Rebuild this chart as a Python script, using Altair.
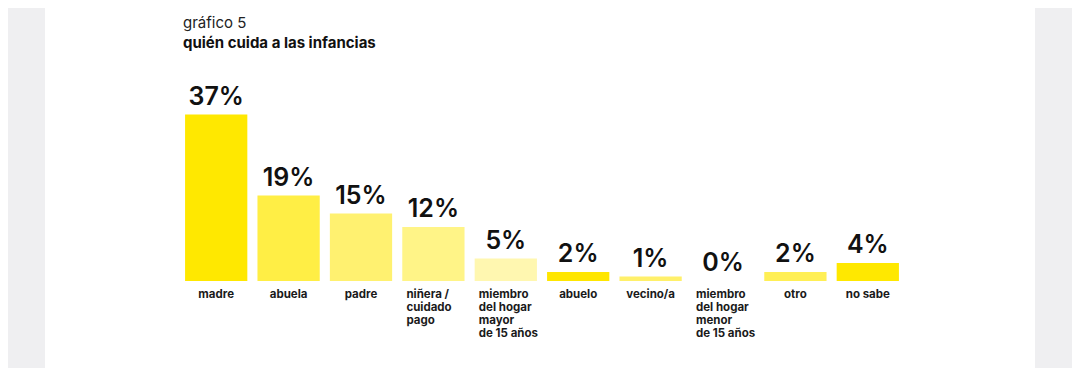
import altair as alt
import pandas as pd

title_text = "gráfico 5"
subtitle_text = "quién cuida a las infancias"

categories = ["madre", "abuela", "padre", "niñera / cuidado pago",
              "miembro del hogar mayor de 15 años", "abuelo", "vecino/a",
              "miembro del hogar menor de 15 años", "otro", "no sabe"]
label_lines = [["madre"], ["abuela"], ["padre"], ["niñera /", "cuidado", "pago"],
               ["miembro", "del hogar", "mayor", "de 15 años"], ["abuelo"], ["vecino/a"],
               ["miembro", "del hogar", "menor", "de 15 años"], ["otro"], ["no sabe"]]
values = [37, 19, 15, 12, 5, 2, 1, 0, 2, 4]
colors = ["#FFE800", "#FFEE45", "#FFF170", "#FFF487", "#FFF7B0",
          "#FFE600", "#FFF06A", "#FFF5C0", "#FFEF55", "#FFE800"]

df = pd.DataFrame({
    "cat": categories,
    "value": values,
    "color": colors,
    "label": [f"{v}%" for v in values],
    "lines": label_lines,
    "multi": [len(l) > 1 for l in label_lines],
})

FONT = "Inter"
x = alt.X("cat:N", sort=categories, axis=None,
          scale=alt.Scale(paddingInner=0.14, paddingOuter=0.07))
y = alt.Y("value:Q", axis=None, scale=alt.Scale(domain=[0, 40]))

one = pd.DataFrame({"a": [0]})
card = alt.Chart(one).mark_rect(color="white").encode(
    x=alt.value(-135), x2=alt.value(855), y=alt.value(-120), y2=alt.value(300)
)

t1 = alt.Chart(pd.DataFrame({"t": [title_text]})).mark_text(
    align="left", baseline="alphabetic", fontSize=15, fontWeight="normal",
    font=FONT, color="#222222"
).encode(x=alt.value(3), y=alt.value(-73), text="t:N")

t2 = alt.Chart(pd.DataFrame({"t": [subtitle_text]})).mark_text(
    align="left", baseline="alphabetic", fontSize=15, fontWeight="bold",
    font=FONT, color="#111111"
).encode(x=alt.value(3), y=alt.value(-53), text="t:N")

bars = alt.Chart(df).mark_bar().encode(
    x=x, y=y, color=alt.Color("color:N", scale=None)
)

pct = alt.Chart(df).mark_text(
    baseline="alphabetic", dy=-10, fontSize=25, fontWeight=600, font=FONT, color="#111111"
).encode(x=x, y=y, text="label:N")

cat_single = alt.Chart(df).transform_filter("!datum.multi").mark_text(
    baseline="top", dy=8, fontSize=11.5, fontWeight="bold", font=FONT, color="#1a1a1a",
    lineHeight=13
).encode(x=x, y=alt.datum(0), text="lines")

cat_multi = alt.Chart(df).transform_filter("datum.multi").mark_text(
    baseline="top", align="left", dx=-27, dy=8, fontSize=11.5, fontWeight="bold",
    font=FONT, color="#1a1a1a", lineHeight=13
).encode(x=x, y=alt.datum(0), text="lines")

chart = alt.layer(card, t1, t2, bars, pct, cat_single, cat_multi).properties(
    width=724, height=180,
    padding={"left": 172, "top": 93, "right": 168, "bottom": 87},
    autosize=alt.AutoSizeParams(type="none"),
    background="#EFEFF1",
).configure_view(stroke=None)

chart.save("out.html", embed_options={"renderer": "svg", "actions": False})
